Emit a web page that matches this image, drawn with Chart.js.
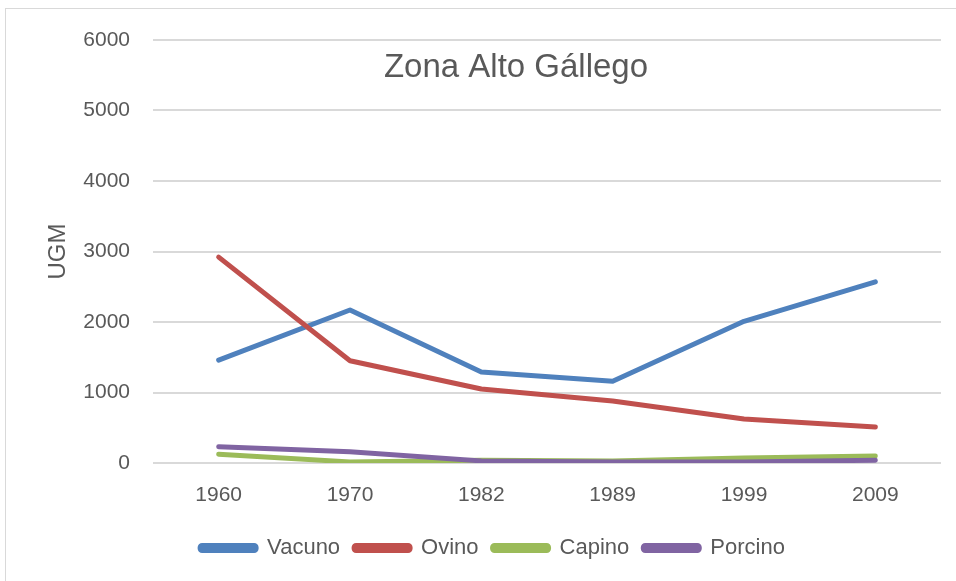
<!DOCTYPE html>
<html>
<head>
<meta charset="utf-8">
<script src="https://cdn.jsdelivr.net/npm/chart.js@4"></script>
<style>
  body { margin: 0; background: #fff; }
  #wrap { position: relative; width: 956px; height: 581px; }
  #frame { position: absolute; left: 5px; top: 8px; width: 960px; height: 580px; border: 1px solid #d9d9d9; box-sizing: border-box; }
  canvas { position: absolute; left: 0; top: 0; }
</style>
</head>
<body>
<div id="wrap">
  <div id="frame"></div>
  <canvas id="myChart" width="956" height="581"></canvas>
</div>
<script>
const years = ["1960", "1970", "1982", "1989", "1999", "2009"];
const vacuno = [1460, 2170, 1290, 1160, 2010, 2570];
const ovino = [2920, 1450, 1050, 880, 625, 510];
const capino = [125, 15, 40, 30, 70, 100];
const porcino = [230, 160, 30, 15, 15, 40];

const textColor = "#595959";
const fontName = "'Liberation Sans', Arial, sans-serif";

function line(label, data, color, order) {
  return {
    label: label,
    data: data,
    borderColor: color,
    backgroundColor: color,
    borderWidth: 5,
    borderCapStyle: "round",
    borderJoinStyle: "round",
    pointRadius: 0,
    tension: 0,
    order: order,
  };
}

// title sits inside the plot area, like in the original
const insideTitle = {
  id: "insideTitle",
  afterDraw(chart) {
    const ctx = chart.ctx;
    ctx.save();
    ctx.fillStyle = textColor;
    ctx.font = "33px " + fontName;
    ctx.textAlign = "center";
    ctx.textBaseline = "middle";
    ctx.fillText("Zona Alto Gállego", 516, 68);
    ctx.restore();
  },
};

var chart = new Chart("myChart", {
  type: "line",
  data: {
    labels: years,
    datasets: [
      line("Vacuno", vacuno, "#4f81bd", 4),
      line("Ovino", ovino, "#c0504d", 3),
      line("Capino", capino, "#9bbb59", 2),
      line("Porcino", porcino, "#8064a2", 1),
    ],
  },
  plugins: [insideTitle],
  options: {
    responsive: false,
    animation: false,
    layout: { padding: { left: 44, right: 15, top: 40, bottom: 12 } },
    plugins: {
      title: { display: false },
      tooltip: { enabled: false },
      legend: {
        position: "bottom",
        labels: {
          color: textColor,
          font: { size: 22, family: fontName },
          boxWidth: 56,
          boxHeight: 5,
          useBorderRadius: true,
          borderRadius: 2,
          padding: 14,
          sort: (a, b) => a.datasetIndex - b.datasetIndex,
        },
      },
    },
    scales: {
      x: {
        offset: true,
        grid: { display: false },
        border: { display: false },
        ticks: { color: textColor, font: { size: 21, family: fontName }, padding: 12 },
        afterFit(scale) { scale.height = 60; },
      },
      y: {
        min: 0,
        max: 6000,
        ticks: {
          stepSize: 1000,
          color: textColor,
          font: { size: 21, family: fontName },
          padding: 23,
          callback: (v) => String(v),
        },
        grid: { color: "#d9d9d9", lineWidth: 2, drawTicks: false },
        border: { display: false },
        title: { display: true, text: "UGM", color: textColor, font: { size: 24, family: fontName }, padding: 0 },
        afterFit(scale) { scale.width = 109; },
      },
    },
  },
});
</script>
</body>
</html>
